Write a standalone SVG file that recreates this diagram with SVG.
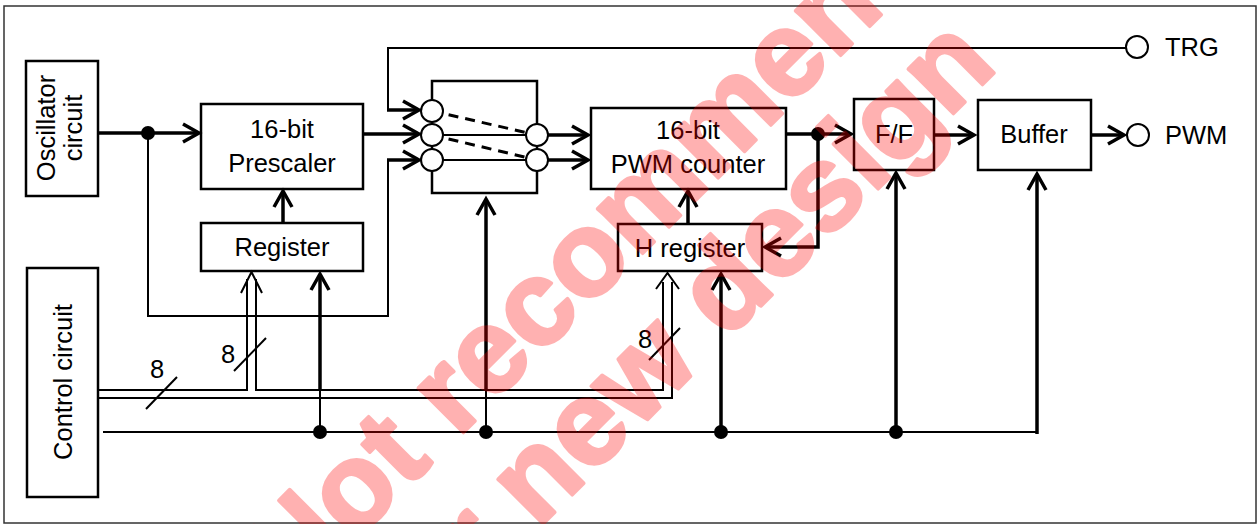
<svg xmlns="http://www.w3.org/2000/svg" width="1258" height="524" viewBox="0 0 1258 524">
<style>
.box{fill:#fff;stroke:#000;stroke-width:2.5}
.t{font-family:"Liberation Sans",Arial,sans-serif;font-size:25.5px;fill:#000}
.c{text-anchor:middle}
.thick{fill:none;stroke:#000;stroke-width:3.5}
.thin{fill:none;stroke:#000;stroke-width:2}
.term{fill:#fff;stroke:#000;stroke-width:2}
.dot{fill:#000}
.wm{font-family:"Liberation Sans",Arial,sans-serif;font-weight:bold;font-size:120px;fill:#f00;stroke:#f00;stroke-width:3.5;stroke-linejoin:round;text-anchor:middle}
</style>
<defs>
<marker id="ah" markerUnits="userSpaceOnUse" viewBox="-20 -12 24 24" markerWidth="24" markerHeight="24" refX="0" refY="0" orient="auto" overflow="visible">
<path d="M-16,-9 L0,0 L-16,9" fill="none" stroke="#000" stroke-width="3.5"/>
</marker>
</defs>
<rect x="4" y="6" width="1252" height="517" fill="#fff" stroke="#333" stroke-width="1.5"/>

<g id="osc">
<rect class="box" x="26" y="61" width="72" height="135"/>
<text class="t c" transform="translate(55,128) rotate(-90)">Oscillator</text>
<text class="t c" transform="translate(82,128) rotate(-90)">circuit</text>
</g>
<g id="ctrl">
<rect class="box" x="27" y="268" width="71" height="229"/>
<text class="t c" transform="translate(72,382) rotate(-90)">Control circuit</text>
</g>
<g id="presc">
<rect class="box" x="201" y="104" width="162" height="85"/>
<text class="t c" x="282" y="138">16-bit</text>
<text class="t c" x="282" y="172">Prescaler</text>
</g>
<g id="reg">
<rect class="box" x="201" y="223" width="162" height="48"/>
<text class="t c" x="282" y="256">Register</text>
</g>
<g id="mux">
<rect class="box" x="432" y="81" width="105" height="112"/>
<line x1="432" y1="135" x2="537" y2="135" stroke="#000" stroke-width="1.8"/>
<line x1="432" y1="160" x2="537" y2="160" stroke="#000" stroke-width="1.8"/>
<line x1="432" y1="111" x2="537" y2="135" stroke="#000" stroke-width="3" stroke-dasharray="10 7"/>
<line x1="432" y1="135" x2="537" y2="160" stroke="#000" stroke-width="3" stroke-dasharray="10 7"/>
<circle class="term" cx="432" cy="111" r="11"/>
<circle class="term" cx="432" cy="135" r="11"/>
<circle class="term" cx="432" cy="160" r="11"/>
<circle class="term" cx="537" cy="135" r="11"/>
<circle class="term" cx="537" cy="160" r="11"/>
</g>
<g id="pwmc">
<rect class="box" x="591" y="108" width="195" height="81"/>
<text class="t c" x="688" y="139">16-bit</text>
<text class="t c" x="688" y="173">PWM counter</text>
</g>
<g id="hreg">
<rect class="box" x="618" y="224" width="144" height="47"/>
<text class="t c" x="690" y="257">H register</text>
</g>
<g id="ff">
<rect class="box" x="854" y="99" width="80" height="71"/>
<text class="t c" x="894" y="143">F/F</text>
</g>
<g id="buf">
<rect class="box" x="978" y="100" width="113" height="70"/>
<text class="t c" x="1034" y="143">Buffer</text>
</g>
<g id="trg">
<circle class="term" cx="1137" cy="47" r="11"/>
<text class="t" x="1165" y="56">TRG</text>
</g>
<g id="pwm">
<circle class="term" cx="1138" cy="135" r="11"/>
<text class="t" x="1165" y="144">PWM</text>
</g>

<g id="connectors">
<line class="thick" x1="98" y1="133" x2="199" y2="133" marker-end="url(#ah)"/>
<polyline class="thin" points="148,133 148,316 388,316 388,160"/>
<line class="thick" x1="387" y1="160" x2="419" y2="160" marker-end="url(#ah)"/>
<polyline class="thin" points="1126,48 388,48 388,110"/>
<line class="thick" x1="387" y1="110" x2="419" y2="110" marker-end="url(#ah)"/>
<line class="thick" x1="363" y1="134" x2="419" y2="134" marker-end="url(#ah)"/>
<line class="thick" x1="548" y1="135" x2="588" y2="135" marker-end="url(#ah)"/>
<line class="thick" x1="548" y1="160" x2="588" y2="160" marker-end="url(#ah)"/>
<line class="thick" x1="786" y1="134" x2="851" y2="134" marker-end="url(#ah)"/>
<polyline class="thick" points="818,134 818,247 765,247" marker-end="url(#ah)"/>
<line class="thick" x1="283" y1="223" x2="283" y2="191" marker-end="url(#ah)"/>
<line class="thick" x1="688" y1="224" x2="688" y2="191" marker-end="url(#ah)"/>
<line class="thick" x1="934" y1="135" x2="974" y2="135" marker-end="url(#ah)"/>
<line class="thick" x1="1091" y1="135" x2="1124" y2="135" marker-end="url(#ah)"/>
<line class="thin" x1="103" y1="432" x2="1037" y2="432"/>
<line class="thick" x1="1037" y1="434" x2="1037" y2="174" marker-end="url(#ah)"/>
<line class="thick" x1="896" y1="432" x2="896" y2="173" marker-end="url(#ah)"/>
<line class="thick" x1="721" y1="432" x2="721" y2="274" marker-end="url(#ah)"/>
<line class="thin" x1="320" y1="432" x2="320" y2="390"/>
<line class="thick" x1="320" y1="390" x2="320" y2="274" marker-end="url(#ah)"/>
<line class="thin" x1="486" y1="432" x2="486" y2="390"/>
<line class="thick" x1="486" y1="390" x2="486" y2="199" marker-end="url(#ah)"/>
<circle class="dot" cx="148" cy="133" r="7"/>
<circle class="dot" cx="818" cy="134" r="7"/>
<circle class="dot" cx="320" cy="432" r="7"/>
<circle class="dot" cx="486" cy="432" r="7"/>
<circle class="dot" cx="721" cy="432" r="7"/>
<circle class="dot" cx="896" cy="432" r="7"/>
<polyline class="thin" points="98,390 247,390 247,279"/>
<polyline class="thin" points="256,279 256,390 663,390 663,282"/>
<polyline class="thin" points="98,398 672,398 672,282"/>
<polyline class="thin" points="241,293 251.5,272 262,293"/>
<polyline class="thin" points="656,289 667.5,273 679,289"/>
<line class="thin" x1="146" y1="409" x2="177" y2="377"/>
<line class="thin" x1="234" y1="371" x2="266" y2="338"/>
<line class="thin" x1="649" y1="360" x2="680" y2="328"/>
<text class="t c" x="157" y="378">8</text>
<text class="t c" x="228" y="363">8</text>
<text class="t c" x="645" y="348">8</text>
</g>

<g id="watermark" opacity="0.3">
<text class="wm" transform="translate(665,231) rotate(-45)">Not recommended</text>
<text class="wm" transform="translate(700,367) rotate(-45)">for new design</text>
</g>
</svg>
